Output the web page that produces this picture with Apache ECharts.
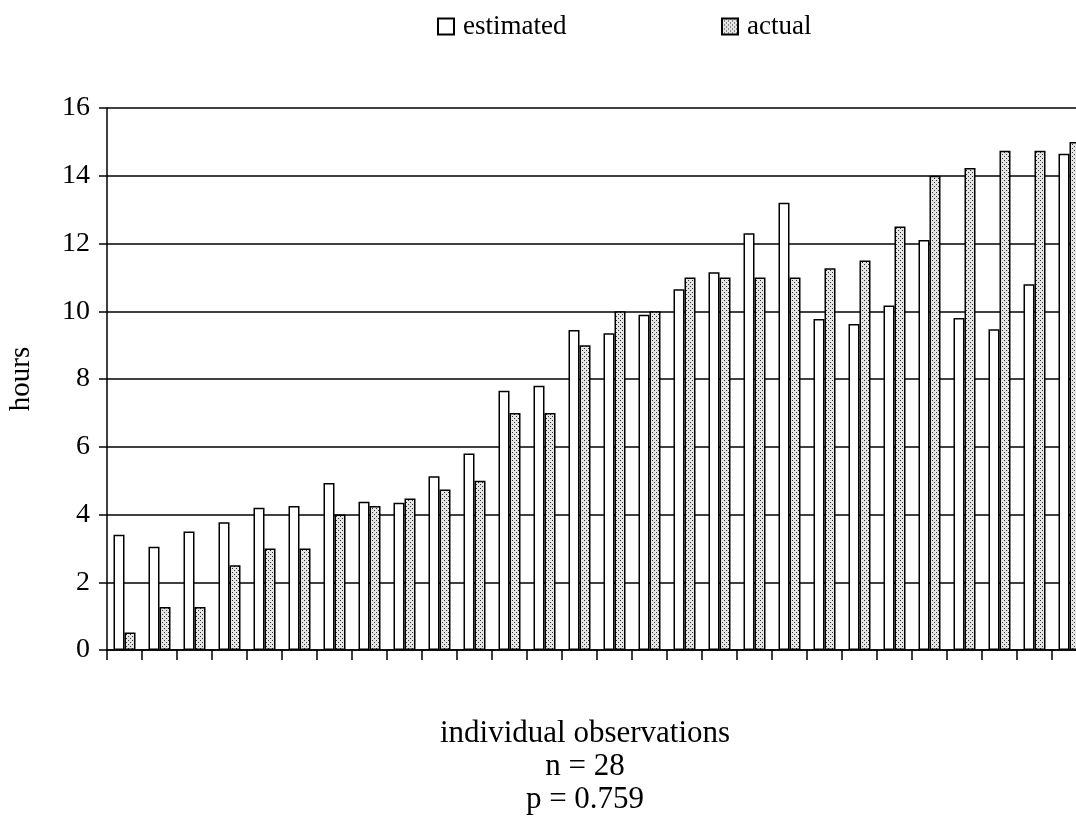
<!DOCTYPE html>
<html>
<head>
<meta charset="utf-8">
<script src="https://cdn.jsdelivr.net/npm/echarts@6/dist/echarts.min.js"></script>
<style>
  html, body { margin: 0; padding: 0; background: #fff; }
  #container { width: 1076px; height: 824px; }
</style>
</head>
<body>
<div id="container"></div>
<script>
var observations = ['1','2','3','4','5','6','7','8','9','10','11','12','13','14',
                    '15','16','17','18','19','20','21','22','23','24','25','26','27','28'];
var estimated = [3.4, 3.05, 3.5, 3.77, 4.2, 4.25, 4.93, 4.38, 4.35, 5.13, 5.8, 7.65, 7.8, 9.45,
                 9.35, 9.9, 10.65, 11.15, 12.3, 13.2, 9.77, 9.62, 10.17, 12.1, 9.8, 9.47, 10.8, 14.65];
var actual = [0.52, 1.27, 1.27, 2.5, 3, 3, 4, 4.25, 4.47, 4.74, 5, 7, 7, 9,
              10, 10, 11, 11, 11, 11, 11.27, 11.5, 12.5, 14, 14.23, 14.74, 14.74, 15];
var footLines = ['individual observations', 'n = 28', 'p = 0.759'];

var serif = 'Liberation Serif';

// dotted fill for the "actual" bars
function dotPattern() {
    var c = document.createElement('canvas');
    c.width = 4; c.height = 4;
    var ctx = c.getContext('2d');
    ctx.fillStyle = '#e4e4e4';
    ctx.fillRect(0, 0, 4, 4);
    ctx.fillStyle = '#333';
    ctx.fillRect(0, 0, 1, 1);
    ctx.fillRect(2, 2, 1, 1);
    return c;
}
var dots = { image: dotPattern(), repeat: 'repeat' };

function legendFor(name, left) {
    return {
        data: [{ name: name, icon: 'rect' }],
        left: left, top: 8,
        itemWidth: 16, itemHeight: 16, itemGap: 0,
        textStyle: { fontFamily: serif, fontSize: 27, color: '#000', padding: [0, 0, 0, 4] }
    };
}

var option = {
    animation: false,
    backgroundColor: '#fff',
    textStyle: { fontFamily: serif, color: '#000' },
    legend: [legendFor('estimated', 432), legendFor('actual', 716)],
    // the plot runs a little past the right edge of the picture
    grid: { left: 107, top: 108, height: 542, width: 980,
            containLabel: false, outerBoundsMode: 'none' },
    xAxis: {
        type: 'category',
        data: observations,
        boundaryGap: true,
        axisLine: { show: true, lineStyle: { color: '#000', width: 1.5 } },
        axisTick: { show: true, inside: false, length: 10, alignWithLabel: false,
                    lineStyle: { color: '#000', width: 1.5 } },
        axisLabel: { show: false },
        splitLine: { show: false }
    },
    yAxis: {
        type: 'value',
        min: 0, max: 16, interval: 2,
        name: 'hours',
        nameLocation: 'middle',
        nameRotate: 90,
        nameGap: 71,
        nameTextStyle: { fontFamily: serif, fontSize: 29, color: '#000' },
        axisLine: { show: true, lineStyle: { color: '#000', width: 1.5 } },
        axisTick: { show: true, inside: false, length: 8, lineStyle: { color: '#000', width: 1.5 } },
        axisLabel: { fontFamily: serif, fontSize: 28, color: '#000', margin: 17 },
        splitLine: { show: true, lineStyle: { color: '#000', width: 1.5 } }
    },
    graphic: [
        {
            type: 'text',
            x: 585,
            y: 717,
            style: {
                text: footLines.join('\n'),
                font: '31px "Liberation Serif"',
                fill: '#000',
                align: 'center',
                lineHeight: 33
            }
        }
    ],
    series: [
        {
            name: 'estimated',
            type: 'bar',
            data: estimated,
            barWidth: 11,
            barGap: '0%',
            itemStyle: { color: '#fff', borderColor: '#000', borderWidth: 1.5 }
        },
        {
            name: 'actual',
            type: 'bar',
            data: actual,
            barWidth: 11,
            barGap: '0%',
            itemStyle: { color: dots, borderColor: '#000', borderWidth: 1.5 }
        }
    ]
};

var myChart = echarts.init(document.getElementById('container'));
myChart.setOption(option);
</script>
</body>
</html>
